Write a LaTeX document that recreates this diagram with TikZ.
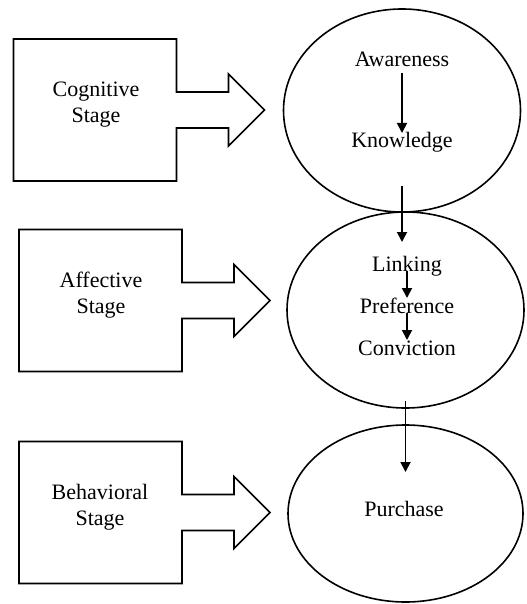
\documentclass[tikz,border=0pt]{standalone}
\usepackage{fontspec}
\setmainfont{Liberation Serif}
\usetikzlibrary{shapes.geometric,arrows.meta}

\begin{document}
\begin{tikzpicture}[x=0.5pt,y=-0.5pt,
    stagebox/.style={minimum width=81.5pt,minimum height=71pt,inner sep=0pt,outer sep=0pt},
    stagetext/.style={align=center,font=\fontsize{11}{13}\selectfont,inner sep=0pt},
    phase/.style={draw,ellipse,line width=0.8pt,inner sep=0pt,outer sep=0pt},
    steptext/.style={anchor=base,font=\fontsize{11}{13}\selectfont,inner sep=0pt,text height=7.3pt,text depth=0pt},
    flow/.style={-{Triangle[length=5pt,width=5pt]},line width=0.9pt}]
    \useasboundingbox (0,0) rectangle (526,604);
    % stages
    \node[stagebox] (cog) at (95,110) {};
    \node[stagebox] (aff) at (100.5,300.5) {};
    \node[stagebox] (beh) at (100.5,512.5) {};
    \node[stagetext] (cogt) at (96,105) {Cognitive\\Stage};
    \node[stagetext] (afft) at (101,295) {Affective\\Stage};
    \node[stagetext] (beht) at (100,507) {Behavioral\\Stage};
    \draw[line width=0.8pt]([yshift=9pt]cog.east)--(cog.north east)--(cog.north west)--(cog.south west)--(cog.south east)--([yshift=-9pt]cog.east)--++(52,0)--++(0,18)--++(36,-36)--++(-36,-36)--++(0,18)--cycle;
    \draw[line width=0.8pt]([yshift=9pt]aff.east)--(aff.north east)--(aff.north west)--(aff.south west)--(aff.south east)--([yshift=-9pt]aff.east)--++(52,0)--++(0,18)--++(36,-36)--++(-36,-36)--++(0,18)--cycle;
    \draw[line width=0.8pt]([yshift=9pt]beh.east)--(beh.north east)--(beh.north west)--(beh.south west)--(beh.south east)--([yshift=-9pt]beh.east)--++(52,0)--++(0,18)--++(36,-36)--++(-36,-36)--++(0,18)--cycle;
    % ovals
    \node[phase,minimum width=118.5pt,minimum height=101.5pt] (cogoval) at (402,110.5) {};
    \node[phase,minimum width=118.5pt,minimum height=98pt] (affoval) at (405.5,310) {};
    \node[phase,minimum width=117.5pt,minimum height=88.5pt] (behoval) at (405.5,513.5) {};
    \node[steptext] (aw) at (402,67) {Awareness};
    \node[steptext] (kn) at (402,148) {Knowledge};
    \node[steptext] (lk) at (407,271) {Linking};
    \node[steptext] (pf) at (407,313) {Preference};
    \node[steptext] (cv) at (407,355) {Conviction};
    \node[steptext] (pu) at (404,516) {Purchase};
    \coordinate (coglow) at ([yshift=13pt]cogoval.south);
    \coordinate (afftop) at ([yshift=-15pt]affoval.north);
    \draw[flow,shorten <=3pt](aw)--(kn);
    \draw[flow](lk)--(pf);
    \draw[flow](pf)--(cv);
    \draw[flow](coglow)--(coglow|-afftop);
    \draw[flow]([yshift=3.5pt]affoval.south)--([yshift=-23.5pt]behoval.north);
\end{tikzpicture}
\end{document}
